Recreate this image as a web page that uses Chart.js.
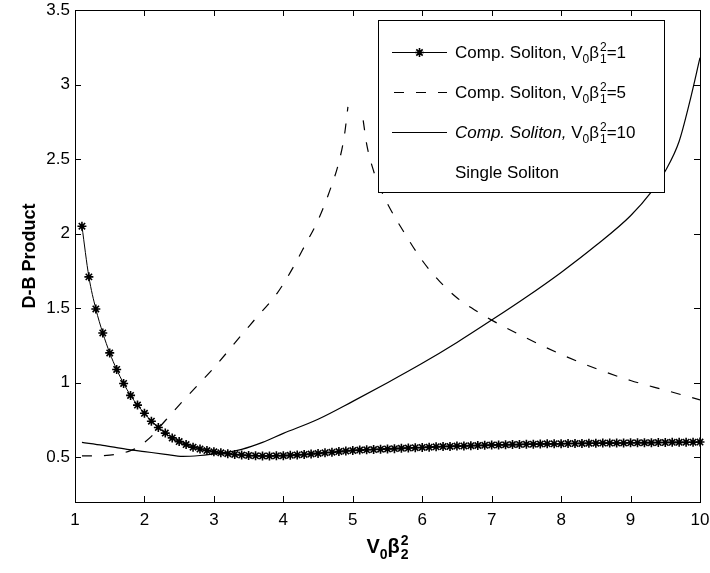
<!DOCTYPE html>
<html>
<head>
<meta charset="utf-8">
<script src="https://cdn.jsdelivr.net/npm/chart.js@4/dist/chart.umd.min.js"></script>
<style>
html,body{margin:0;padding:0;background:#fff;}
#wrap{position:relative;width:710px;height:573px;}
</style>
</head>
<body>
<div id="wrap"><canvas id="chartDB"></canvas></div>
<script>
var xTicks = [1,2,3,4,5,6,7,8,9,10];
var yTicks = [0.5,1,1.5,2,2.5,3,3.5];

// Comp. Soliton, V0b1^2 = 1 (stars)
var starX = [1.1,1.2,1.3,1.4,1.5,1.6,1.7,1.8,1.9,2.0,
             2.1,2.2,2.3,2.4,2.5,2.6,2.7,2.8,2.9,3.0,
             3.1,3.2,3.3,3.4,3.5,3.6,3.7,3.8,3.9,4.0,
             4.1,4.2,4.3,4.4,4.5,4.6,4.7,4.8,4.9,5.0,
             5.1,5.2,5.3,5.4,5.5,5.6,5.7,5.8,5.9,6.0,
             6.1,6.2,6.3,6.4,6.5,6.6,6.7,6.8,6.9,7.0,
             7.1,7.2,7.3,7.4,7.5,7.6,7.7,7.8,7.9,8.0,
             8.1,8.2,8.3,8.4,8.5,8.6,8.7,8.8,8.9,9.0,
             9.1,9.2,9.3,9.4,9.5,9.6,9.7,9.8,9.9,10.0];
var starY = [2.05,1.71,1.495,1.334,1.20,1.089,0.995,0.915,0.85,0.795,
             0.742,0.70,0.662,0.63,0.605,0.585,0.568,0.555,0.545,0.537,
             0.53,0.524,0.519,0.515,0.512,0.51,0.509,0.509,0.51,0.511,
             0.513,0.516,0.519,0.522,0.526,0.53,0.534,0.538,0.542,0.545,
             0.548,0.55,0.552,0.554,0.556,0.558,0.56,0.562,0.564,0.566,
             0.568,0.57,0.572,0.573,0.575,0.576,0.578,0.579,0.58,0.582,
             0.583,0.584,0.585,0.586,0.587,0.588,0.589,0.59,0.59,0.591,
             0.592,0.592,0.593,0.594,0.594,0.595,0.595,0.596,0.596,0.597,
             0.597,0.598,0.598,0.599,0.599,0.6,0.6,0.601,0.601,0.602];

// Comp. Soliton, V0b1^2 = 5 (dashed)
var dashX = [1.1,1.3,1.5,1.7,1.8,1.9,2.0,2.1,2.27,2.5,2.84,3.0,3.38,3.6,3.91,4.1,4.31,4.5,4.67,4.8,4.88,4.93,
             5.0,
             5.15,5.2,5.3,5.4,5.5,5.75,6.0,6.25,6.5,6.75,7.0,7.5,8.0,8.5,9.0,9.5,10.0];
var dashY = [0.51,0.51,0.515,0.53,0.545,0.565,0.6,0.64,0.73,0.85,1.02,1.1,1.31,1.43,1.60,1.74,1.92,2.09,2.29,2.48,2.66,2.85,
             null,
             2.76,2.6,2.42,2.3,2.2,2.0,1.82,1.68,1.57,1.49,1.42,1.30,1.19,1.095,1.015,0.95,0.885];

// Comp. Soliton, V0b1^2 = 10 (solid)
var solidX = [1.1,1.4,1.75,2.0,2.3,2.55,2.8,3.0,3.2,3.4,3.7,4.0,4.5,5.0,5.5,6.0,6.5,7.0,7.5,8.0,8.5,9.0,9.3,9.5,9.7,9.85,10.0];
var solidY = [0.60,0.58,0.553,0.538,0.52,0.506,0.512,0.522,0.533,0.553,0.60,0.66,0.755,0.875,1.0,1.13,1.27,1.42,1.575,1.74,1.92,2.12,2.28,2.42,2.62,2.88,3.18];

var legendLabels = [
  [{t:'Comp. Soliton, V'},{t:'0',kind:'sub'},{t:'\u03B2'},{t:['2','1'],kind:'supsub'},{t:'=1'}],
  [{t:'Comp. Soliton, V'},{t:'0',kind:'sub'},{t:'\u03B2'},{t:['2','1'],kind:'supsub'},{t:'=5'}],
  [{t:'Comp. Soliton,',italic:true},{t:' V'},{t:'0',kind:'sub'},{t:'\u03B2'},{t:['2','1'],kind:'supsub'},{t:'=10'}],
  [{t:'Single Soliton'}]
];
var xTitle = [{t:'V'},{t:'0',kind:'sub'},{t:'\u03B2'},{t:['2','2'],kind:'supsub'}];
var yTitle = 'D-B Product';

var fam = '"Liberation Sans", Arial, Helvetica, sans-serif';

function pts(xs, ys){
  return xs.map(function(x, i){ return {x: x, y: ys[i]}; });
}

function rich(ctx, parts, x, y, size, bold, doDraw){
  var cx = x;
  var w = bold ? 'bold ' : '';
  var small = Math.round(size * 0.72);
  parts.forEach(function(p){
    var it = p.italic ? 'italic ' : '';
    if (p.kind === 'sub') {
      ctx.font = it + w + small + 'px ' + fam;
      if (doDraw) ctx.fillText(p.t, cx, y + size * 0.3);
      cx += ctx.measureText(p.t).width;
    } else if (p.kind === 'supsub') {
      ctx.font = it + w + small + 'px ' + fam;
      var a = ctx.measureText(p.t[0]).width, b = ctx.measureText(p.t[1]).width;
      if (doDraw) {
        ctx.fillText(p.t[0], cx + 1, y - size * 0.42);
        ctx.fillText(p.t[1], cx + 1, y + size * 0.3);
      }
      cx += Math.max(a, b) + 1;
    } else {
      ctx.font = it + w + size + 'px ' + fam;
      if (doDraw) ctx.fillText(p.t, cx, y);
      cx += ctx.measureText(p.t).width;
    }
  });
  return cx - x;
}

function star(ctx, x, y, r){
  ctx.beginPath();
  ctx.moveTo(x - r, y); ctx.lineTo(x + r, y);
  ctx.moveTo(x, y - r); ctx.lineTo(x, y + r);
  var d = r * 0.7071;
  ctx.moveTo(x - d, y - d); ctx.lineTo(x + d, y + d);
  ctx.moveTo(x - d, y + d); ctx.lineTo(x + d, y - d);
  ctx.stroke();
}

var framePlugin = {
  id: 'matlabFrame',
  afterDraw: function(chart){
    var ctx = chart.ctx, a = chart.chartArea;
    var xs = chart.scales.x, ys = chart.scales.y;
    ctx.save();
    ctx.strokeStyle = '#000';
    ctx.fillStyle = '#000';
    ctx.lineWidth = 1;
    // box
    ctx.strokeRect(Math.round(a.left) + 0.5, Math.round(a.top) + 0.5, Math.round(a.right - a.left), Math.round(a.bottom - a.top));
    // inward ticks
    ctx.beginPath();
    xTicks.forEach(function(v){
      var px = Math.round(xs.getPixelForValue(v)) + 0.5;
      ctx.moveTo(px, a.bottom); ctx.lineTo(px, a.bottom - 6);
      ctx.moveTo(px, a.top); ctx.lineTo(px, a.top + 6);
    });
    yTicks.forEach(function(v){
      var py = Math.round(ys.getPixelForValue(v)) + 0.5;
      ctx.moveTo(a.left, py); ctx.lineTo(a.left + 6, py);
      ctx.moveTo(a.right, py); ctx.lineTo(a.right - 6, py);
    });
    ctx.stroke();

    // legend
    var lx = 378, ly = 20, lw = 286, lh = 172;
    ctx.fillStyle = '#fff';
    ctx.fillRect(lx, ly, lw, lh);
    ctx.strokeRect(lx + 0.5, ly + 0.5, lw, lh);
    ctx.fillStyle = '#000';
    ctx.textBaseline = 'alphabetic';
    ctx.textAlign = 'left';
    var rows = [52, 92, 132, 172];
    legendLabels.forEach(function(parts, i){
      var cy = rows[i] + 0.5;
      ctx.lineWidth = 1.2;
      if (i < 3) {
        ctx.setLineDash(i === 1 ? [10, 12] : []);
        ctx.beginPath();
        ctx.moveTo(i === 1 ? 394 : 392, cy);
        ctx.lineTo(447, cy);
        ctx.stroke();
        ctx.setLineDash([]);
        if (i === 0) { ctx.lineWidth = 1.6; star(ctx, 419.5, cy, 4.5); }
      }
      rich(ctx, parts, 455, rows[i] + 6, 17, false, true);
    });

    // axis titles
    var tw = rich(ctx, xTitle, 0, 0, 20, true, false);
    rich(ctx, xTitle, (a.left + a.right) / 2 - tw / 2, 553, 20, true, true);
    ctx.save();
    ctx.translate(30, (a.top + a.bottom) / 2);
    ctx.rotate(-Math.PI / 2);
    ctx.textAlign = 'center';
    ctx.textBaseline = 'middle';
    ctx.font = 'bold 18px ' + fam;
    ctx.fillText(yTitle, 0, 0);
    ctx.restore();
    ctx.restore();
  }
};

var cxt = document.getElementById('chartDB');
var graph = new Chart(cxt, {
  type: 'line',
  data: {
    datasets: [
      {
        label: 'Comp. Soliton, V0b1^2=1',
        data: pts(starX, starY),
        borderColor: '#000',
        borderWidth: 1,
        pointStyle: 'star',
        pointRadius: 4.5,
        pointBorderWidth: 1.6,
        pointBorderColor: '#000',
        pointBackgroundColor: '#000',
        cubicInterpolationMode: 'monotone',
        clip: 8
      },
      {
        label: 'Comp. Soliton, V0b1^2=5',
        data: pts(dashX, dashY),
        borderColor: '#000',
        borderWidth: 1.2,
        borderDash: [10, 12],
        pointRadius: 0,
        spanGaps: false,
        cubicInterpolationMode: 'monotone'
      },
      {
        label: 'Comp. Soliton, V0b1^2=10',
        data: pts(solidX, solidY),
        borderColor: '#000',
        borderWidth: 1.2,
        pointRadius: 0,
        cubicInterpolationMode: 'monotone'
      }
    ]
  },
  options: {
    responsive: true,
    maintainAspectRatio: false,
    animation: false,
    layout: { padding: { top: 10, right: 10, left: 0, bottom: 0 } },
    plugins: { legend: { display: false }, tooltip: { enabled: false } },
    scales: {
      x: {
        type: 'linear',
        min: 1, max: 10,
        grid: { display: false, drawTicks: false },
        border: { display: false },
        ticks: { color: '#000', font: { family: fam, size: 17 }, padding: 8, maxRotation: 0 },
        afterBuildTicks: function(s){ s.ticks = xTicks.map(function(v){ return {value: v}; }); },
        afterFit: function(s){ s.height = 71; s.paddingLeft = 0; s.paddingRight = 0; }
      },
      y: {
        type: 'linear',
        min: 0.2, max: 3.5,
        grid: { display: false, drawTicks: false },
        border: { display: false },
        ticks: { color: '#000', font: { family: fam, size: 17 }, padding: 5,
                 callback: function(v){ return String(v); } },
        afterBuildTicks: function(s){ s.ticks = yTicks.map(function(v){ return {value: v}; }); },
        afterFit: function(s){ s.width = 75; s.paddingTop = 0; s.paddingBottom = 0; }
      }
    }
  },
  plugins: [framePlugin]
});
</script>
</body>
</html>
